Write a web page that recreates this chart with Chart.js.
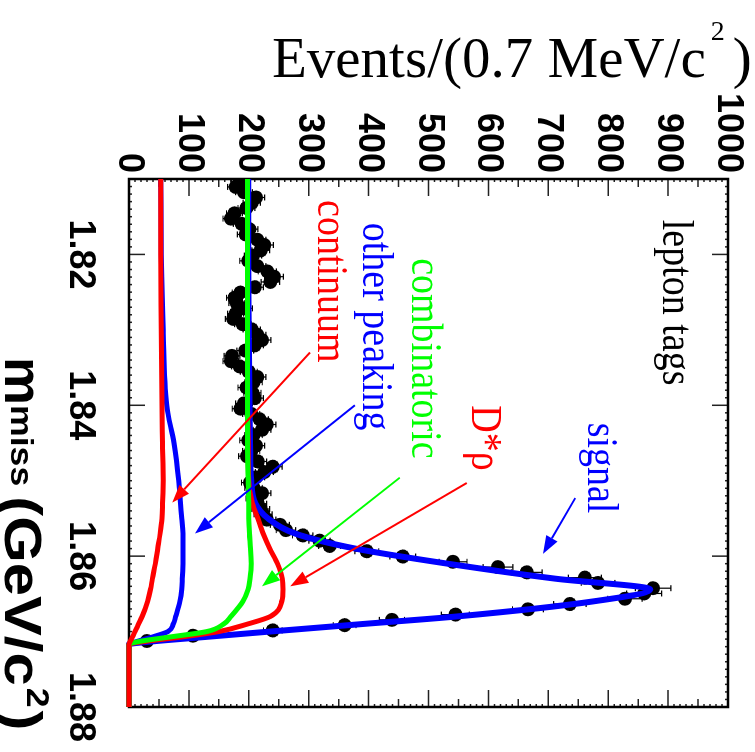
<!DOCTYPE html>
<html>
<head>
<meta charset="utf-8">
<script src="https://cdn.jsdelivr.net/npm/chart.js@4.4.0/dist/chart.umd.min.js"></script>
<style>
  html, body { margin: 0; padding: 0; background: #fff; overflow: hidden; }
  /* the plot is drawn upright and then turned a quarter turn clockwise */
  #wrap { position: absolute; left: 0; top: 0; width: 752px; height: 755px;
          transform-origin: 0 0; transform: translate(755px, 0) rotate(90deg); }
</style>
</head>
<body>
<div id="wrap"><canvas id="myChart" width="752" height="755"></canvas></div>
<script>
// bin centres of the m_miss histogram (GeV/c^2), 0.7 MeV bins
var binCenters = [
  1.81035, 1.81105, 1.81175, 1.81245, 1.81315, 1.81385, 1.81455, 1.81525, 1.81595, 1.81665,
  1.81735, 1.81805, 1.81875, 1.81945, 1.82015, 1.82085, 1.82155, 1.82225, 1.82295, 1.82365,
  1.82435, 1.82505, 1.82575, 1.82645, 1.82715, 1.82785, 1.82855, 1.82925, 1.82995, 1.83065,
  1.83135, 1.83205, 1.83275, 1.83345, 1.83415, 1.83485, 1.83555, 1.83625, 1.83695, 1.83765,
  1.83835, 1.83905, 1.83975, 1.84045, 1.84115, 1.84185, 1.84255, 1.84325, 1.84395, 1.84465,
  1.84535, 1.84605, 1.84675, 1.84745, 1.84815, 1.84885, 1.84955, 1.85025, 1.85095, 1.85165,
  1.85235, 1.85305, 1.85375, 1.85445, 1.85515, 1.85585, 1.85655, 1.85725, 1.85795, 1.85865,
  1.85935, 1.86005, 1.86075, 1.86145, 1.86215, 1.86285, 1.86355, 1.86425, 1.86495, 1.86565,
  1.86635, 1.86705, 1.86775, 1.86845, 1.86915, 1.86985, 1.87055, 1.87125
]

// events per bin (black points)
var counts = [
  185, 178, 192, 212, 205, 196, 176, 170, 188, 201,
  195, 214, 226, 220, 207, 199, 214, 231, 242, 236,
  210, 186, 176, 180, 192, 178, 174, 190, 205, 214,
  222, 210, 194, 172, 170, 185, 200, 214, 208, 196,
  206, 210, 192, 186, 204, 218, 230, 222, 208, 199,
  212, 204, 197, 215, 240, 226, 212, 202, 208, 222,
  210, 215, 220, 224, 230, 252, 262, 290, 318, 335,
  397, 457, 541, 616, 664, 761, 783, 875, 860, 828,
  736, 666, 545, 439, 360, 240, 107, 30
]

// fit curves, read at these masses (stacked components)
var curveMass    = [1.810, 1.820, 1.830, 1.840, 1.845, 1.850, 1.853, 1.855, 1.857, 1.859, 1.861, 1.863,
                    1.8644, 1.866, 1.868, 1.869, 1.870, 1.8707, 1.8713, 1.8717, 1.872, 1.876, 1.880]
var continuum    = [53, 53, 54, 55, 56, 57, 56, 55, 52, 48, 44, 39, 36, 31, 22, 16, 10, 6, 2, 0, 0, 0, 0]
var otherPeaking = [53, 54, 57, 63, 75, 83, 86, 88, 90, 90, 90, 89, 88, 85, 78, 74, 65, 40, 14, 0, 0, 0, 0]
var combinatoric = [198, 198, 198, 198, 198, 199, 200, 200, 201, 203, 204, 202, 199, 190, 170, 158, 130, 70, 18, 0, 0, 0, 0]
var dstarRho     = [198, 198, 198, 198, 199, 200, 206, 215, 224, 235, 248, 256, 257, 255, 236, 198, 150, 90, 28, 0, 0, 0, 0]
var total        = [199, 199, 200, 201, 202, 204, 211, 232, 277, 378, 532, 713, 870, 775, 547, 390, 235, 130, 40, 0, 0, 0, 0]

// tick labels
var massTicks  = [1.82, 1.84, 1.86, 1.88]
var eventTicks = [0, 100, 200, 300, 400, 500, 600, 700, 800, 900, 1000]

// labels and arrows on the plot, placed in data units
var labels = [
  {text: 'lepton tags',   m: 1.8154, ev: 891, color: '#000000'},
  {text: 'signal',        m: 1.8423, ev: 766, color: '#0000ff'},
  {text: 'D*\u03c1',      m: 1.8400, ev: 573, color: '#ff0000'},
  {text: 'combinatoric',  m: 1.8205, ev: 472, color: '#00ff00'},
  {text: 'other peaking', m: 1.8158, ev: 391, color: '#0000ff'},
  {text: 'continuum',     m: 1.8128, ev: 316, color: '#ff0000'}
]
var arrows = [
  {m0: 1.8523, e0: 745, m1: 1.8597, e1: 691, color: '#0000ff'},
  {m0: 1.8503, e0: 564, m1: 1.8640, e1: 269, color: '#ff0000'},
  {m0: 1.8496, e0: 452, m1: 1.8640, e1: 222, color: '#00ff00'},
  {m0: 1.8400, e0: 377, m1: 1.8570, e1: 110, color: '#0000ff'},
  {m0: 1.8330, e0: 302, m1: 1.8529, e1: 72,  color: '#ff0000'}
]

function points(xs, ys) {
  var out = []
  for (var i = 0; i < xs.length; i++) out.push({x: xs[i], y: ys[i]})
  return out
}

function curve(label, values, color, width) {
  return {
    label: label,
    data: points(curveMass, values),
    showLine: true,
    borderColor: color,
    borderWidth: width,
    pointRadius: 0,
    cubicInterpolationMode: 'monotone',
    clip: false
  }
}

function drawArrow(ctx, x0, y0, x1, y1, color) {
  var a = Math.atan2(y1 - y0, x1 - x0)
  var hl = 18, hw = 6.5
  var bx = x1 - hl * Math.cos(a), by = y1 - hl * Math.sin(a)
  ctx.strokeStyle = color
  ctx.fillStyle = color
  ctx.lineWidth = 2
  ctx.beginPath()
  ctx.moveTo(x0, y0)
  ctx.lineTo(bx, by)
  ctx.stroke()
  ctx.beginPath()
  ctx.moveTo(x1, y1)
  ctx.lineTo(bx + hw * Math.sin(a), by - hw * Math.cos(a))
  ctx.lineTo(bx - hw * Math.sin(a), by + hw * Math.cos(a))
  ctx.closePath()
  ctx.fill()
}

// text drawn a little stretched, like the original plot
function stretchedText(ctx, text, px, py, sx, sy) {
  ctx.save()
  ctx.translate(px, py)
  ctx.scale(sx, sy)
  ctx.fillText(text, 0, 0)
  ctx.restore()
  return ctx.measureText(text).width * sx
}

// frame, inward ticks, error bars, axis titles and the annotations
var decorations = {
  id: 'decorations',
  beforeDatasetsDraw: function (chart) {
    var ctx = chart.ctx, area = chart.chartArea
    var x = chart.scales.x, y = chart.scales.y
    ctx.save()

    // poisson error bars
    ctx.strokeStyle = '#000'
    ctx.lineWidth = 1.2
    for (var i = 0; i < counts.length; i++) {
      var px = x.getPixelForValue(binCenters[i])
      var err = Math.sqrt(counts[i])
      var lo = y.getPixelForValue(counts[i] - err), hi = y.getPixelForValue(counts[i] + err)
      ctx.beginPath()
      ctx.moveTo(px, lo); ctx.lineTo(px, hi)
      ctx.moveTo(px - 3, lo); ctx.lineTo(px + 3, lo)
      ctx.moveTo(px - 3, hi); ctx.lineTo(px + 3, hi)
      ctx.stroke()
    }

    // ticks on all four sides
    ctx.strokeStyle = '#222'
    ctx.lineWidth = 1.5
    ctx.beginPath()
    for (var k = 0; k <= 100; k++) {
      var len = k % 10 === 0 ? 17 : (k % 5 === 0 ? 8 : 3)
      var ty = y.getPixelForValue(k * 10)
      ctx.moveTo(area.left, ty); ctx.lineTo(area.left + len, ty)
      ctx.moveTo(area.right, ty); ctx.lineTo(area.right - len, ty)
    }
    for (var m = 1810; m <= 1880; m++) {
      var mlen = m % 20 === 0 ? 16 : 3
      var tx = x.getPixelForValue(m / 1000)
      ctx.moveTo(tx, area.bottom); ctx.lineTo(tx, area.bottom - mlen)
      ctx.moveTo(tx, area.top); ctx.lineTo(tx, area.top + mlen)
    }
    ctx.stroke()

    ctx.strokeStyle = '#000'
    ctx.lineWidth = 2.5
    ctx.strokeRect(area.left, area.top, area.right - area.left, area.bottom - area.top)
    ctx.restore()
  },
  afterDraw: function (chart) {
    var ctx = chart.ctx
    var x = chart.scales.x, y = chart.scales.y
    ctx.save()
    ctx.fillStyle = '#000'
    ctx.textBaseline = 'alphabetic'
    ctx.textAlign = 'left'

    // y title, running upwards
    ctx.save()
    ctx.translate(77, 483)
    ctx.rotate(-Math.PI / 2)
    ctx.font = '57px "Liberation Serif"'
    var t1 = 'Events/(0.7 MeV/c'
    ctx.fillText(t1, 0, 0)
    var w = ctx.measureText(t1).width
    ctx.font = '28px "Liberation Serif"'
    ctx.fillText('2', w + 5, -37)
    ctx.font = '57px "Liberation Serif"'
    ctx.fillText(')', w + 27, 0)
    ctx.restore()

    // x title: m_miss (GeV/c^2)
    var ux = 357, base = 750, sx = 1.15
    ctx.font = 'bold 54px "Liberation Sans"'
    ux += stretchedText(ctx, 'm', ux, base, 1, 1)
    ctx.font = 'bold 31px "Liberation Sans"'
    ux += stretchedText(ctx, 'miss', ux, base - 6, sx, 1) + 10
    ctx.font = 'bold 52px "Liberation Sans"'
    ux += stretchedText(ctx, '(GeV/c', ux, base, sx, 1)
    ctx.font = 'bold 31px "Liberation Sans"'
    ux += stretchedText(ctx, '2', ux + 2, base - 22, sx, 1) + 5
    ctx.font = 'bold 52px "Liberation Sans"'
    stretchedText(ctx, ')', ux, base, sx, 1)

    // annotations
    ctx.font = '38px "Liberation Serif"'
    labels.forEach(function (l) {
      ctx.fillStyle = l.color
      stretchedText(ctx, l.text, x.getPixelForValue(l.m), y.getPixelForValue(l.ev), 1, 1.15)
    })
    arrows.forEach(function (a) {
      drawArrow(ctx, x.getPixelForValue(a.m0), y.getPixelForValue(a.e0),
                x.getPixelForValue(a.m1), y.getPixelForValue(a.e1), a.color)
    })
    ctx.restore()
  }
}

var tickFont = {family: 'Liberation Sans', weight: 'bold', size: 36}

var chart = new Chart(document.getElementById('myChart').getContext('2d'), {
  type: 'scatter',
  data: {
    datasets: [
      curve('continuum', continuum, '#ff0000', 5),
      curve('combinatoric', combinatoric, '#00ff00', 5),
      curve('D*rho', dstarRho, '#ff0000', 5),
      curve('other peaking', otherPeaking, '#0000ff', 5),
      curve('total', total, '#0000ff', 6),
      {
        label: 'data',
        data: points(binCenters, counts),
        showLine: false,
        pointRadius: 7,
        pointBackgroundColor: '#000',
        pointBorderWidth: 0
      }
    ]
  },
  options: {
    responsive: false,
    animation: false,
    devicePixelRatio: 1,
    layout: {padding: {top: 27, right: 45, left: 0, bottom: 0}},
    plugins: {legend: {display: false}, tooltip: {enabled: false}},
    scales: {
      x: {
        type: 'linear',
        min: 1.81,
        max: 1.88,
        grid: {display: false, drawTicks: false},
        border: {display: false},
        afterBuildTicks: function (s) { s.ticks = massTicks.map(function (v) { return {value: v} }) },
        afterFit: function (s) { s.height = 129; s.paddingLeft = 0; s.paddingRight = 0 },
        ticks: {font: tickFont, color: '#000', padding: 27, maxRotation: 0, minRotation: 0,
                callback: function (v) { return v.toFixed(2) }}
      },
      y: {
        type: 'linear',
        min: 0,
        max: 1000,
        grid: {display: false, drawTicks: false},
        border: {display: false},
        afterBuildTicks: function (s) { s.ticks = eventTicks.map(function (v) { return {value: v} }) },
        afterFit: function (s) { s.width = 179; s.paddingTop = 0; s.paddingBottom = 0 },
        ticks: {font: tickFont, color: '#000', padding: 6, callback: function (v) { return String(v) }}
      }
    }
  },
  plugins: [decorations]
})
</script>
</body>
</html>
